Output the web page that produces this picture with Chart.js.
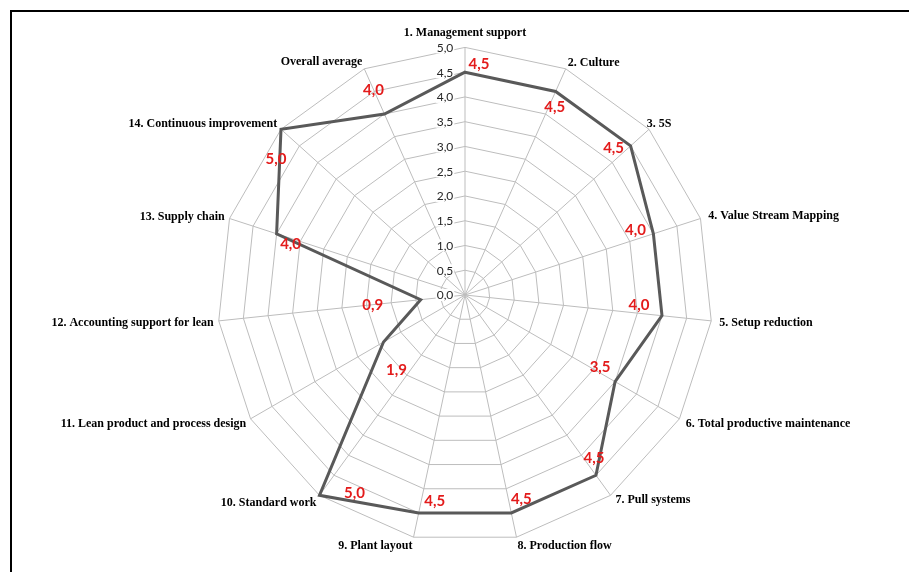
<!DOCTYPE html>
<html>
<head>
<meta charset="utf-8">
<script src="https://cdn.jsdelivr.net/npm/chart.js@4/dist/chart.umd.min.js"></script>
<style>
  html, body { margin: 0; padding: 0; background: #fff; overflow: hidden; }
  #wrap { position: relative; width: 909px; height: 572px; }
  #frame { position: absolute; left: 10px; top: 10px; width: 1000px; height: 700px;
           border: 2px solid #000; box-sizing: border-box; pointer-events: none; }
  #chart { position: absolute; left: 0; top: 0; }
</style>
</head>
<body>
<div id="wrap">
  <canvas id="chart" width="909" height="572"></canvas>
  <div id="frame"></div>
</div>
<script>
// Lean practice assessment scores per area
const categories = [
  "1. Management support",
  "2. Culture",
  "3. 5S",
  "4. Value Stream Mapping",
  "5. Setup reduction",
  "6. Total productive maintenance",
  "7. Pull systems",
  "8. Production flow",
  "9. Plant layout",
  "10. Standard work",
  "11. Lean product and process design",
  "12. Accounting support for lean",
  "13. Supply chain",
  "14. Continuous improvement",
  "Overall average"
];
const scores = [4.5, 4.5, 4.5, 4.0, 4.0, 3.5, 4.5, 4.5, 4.5, 5.0, 1.9, 0.9, 4.0, 5.0, 4.0];
const tickValues = [0, 0.5, 1, 1.5, 2, 2.5, 3, 3.5, 4, 4.5, 5];

// where each value label sits relative to its point (px)
const labelOffsets = [
  [14, -8], [-1, 16], [-17, 2], [-18, -4], [-23, -11],
  [-15, -15], [-2, -17], [10, -14], [16, -12], [35, -2],
  [13, 28], [-48, 5], [14, 10], [-5, 30], [-11, -24]
];

// vertical nudge of each category label, keeping it snug to the outer ring
const categoryShiftY = [-2, 6, 5, 6, -6, -5, -7, -3, -3, -4, -5, -6, 7, 5, 5];
const categoryShiftX = [0, 0, -6, 3, 3, 2, 2, 0, 0, 0, 0, 0, 0, 0, 0];

const fmt = v => v.toFixed(1).replace('.', ',');

// value-axis labels drawn left of the vertical axis on a white backdrop
const axisLabels = {
  id: 'axisLabels',
  beforeDatasetsDraw(chart) {
    const s = chart.scales.r;
    const ctx = chart.ctx;
    ctx.save();
    ctx.font = '12px Lato';
    ctx.textAlign = 'center';
    ctx.textBaseline = 'middle';
    tickValues.forEach(v => {
      const y = s.yCenter - s.getDistanceFromCenterForValue(v);
      const x = s.xCenter - 20;
      const t = fmt(v);
      const w = ctx.measureText(t).width;
      ctx.fillStyle = '#ffffff';
      ctx.fillRect(x - w / 2 - 1, y - 6, w + 2, 12);
      ctx.fillStyle = '#262626';
      ctx.fillText(t, x, y + 0.5);
    });
    ctx.restore();
  }
};

// red value labels next to each point
const valueLabels = {
  id: 'valueLabels',
  afterDatasetsDraw(chart) {
    const meta = chart.getDatasetMeta(0);
    const ctx = chart.ctx;
    ctx.save();
    ctx.font = 'bold 15px Lato';
    ctx.fillStyle = '#e31b1b';
    ctx.textAlign = 'center';
    ctx.textBaseline = 'middle';
    meta.data.forEach((pt, i) => {
      const [dx, dy] = labelOffsets[i];
      ctx.fillText(fmt(scores[i]), pt.x + dx, pt.y + dy);
    });
    ctx.restore();
  }
};

new Chart(document.getElementById('chart'), {
  type: 'radar',
  data: {
    labels: categories,
    datasets: [{
      data: scores,
      borderColor: '#595959',
      borderWidth: 3,
      fill: false,
      pointRadius: 0,
      pointHoverRadius: 0,
      tension: 0
    }]
  },
  options: {
    responsive: false,
    animation: false,
    layout: { padding: { left: 21, right: 0, top: 26, bottom: 12 } },
    plugins: { legend: { display: false }, tooltip: { enabled: false } },
    scales: {
      r: {
        min: 0,
        max: 5,
        ticks: { display: false, stepSize: 0.5 },
        grid: { color: '#bdbdbd', lineWidth: 1 },
        angleLines: { color: '#bdbdbd', lineWidth: 1 },
        pointLabels: {
          color: '#000',
          padding: 5,
          font: { family: '"Liberation Serif"', size: 12, weight: 'bold' }
        },
        afterFit(scale) {
          (scale._pointLabelItems || []).forEach((it, i) => {
            const dy = categoryShiftY[i] || 0;
            const dx = categoryShiftX[i] || 0;
            it.y += dy; it.top += dy; it.bottom += dy;
            it.x += dx; it.left += dx; it.right += dx;
          });
        }
      }
    }
  },
  plugins: [axisLabels, valueLabels]
});
</script>
</body>
</html>
